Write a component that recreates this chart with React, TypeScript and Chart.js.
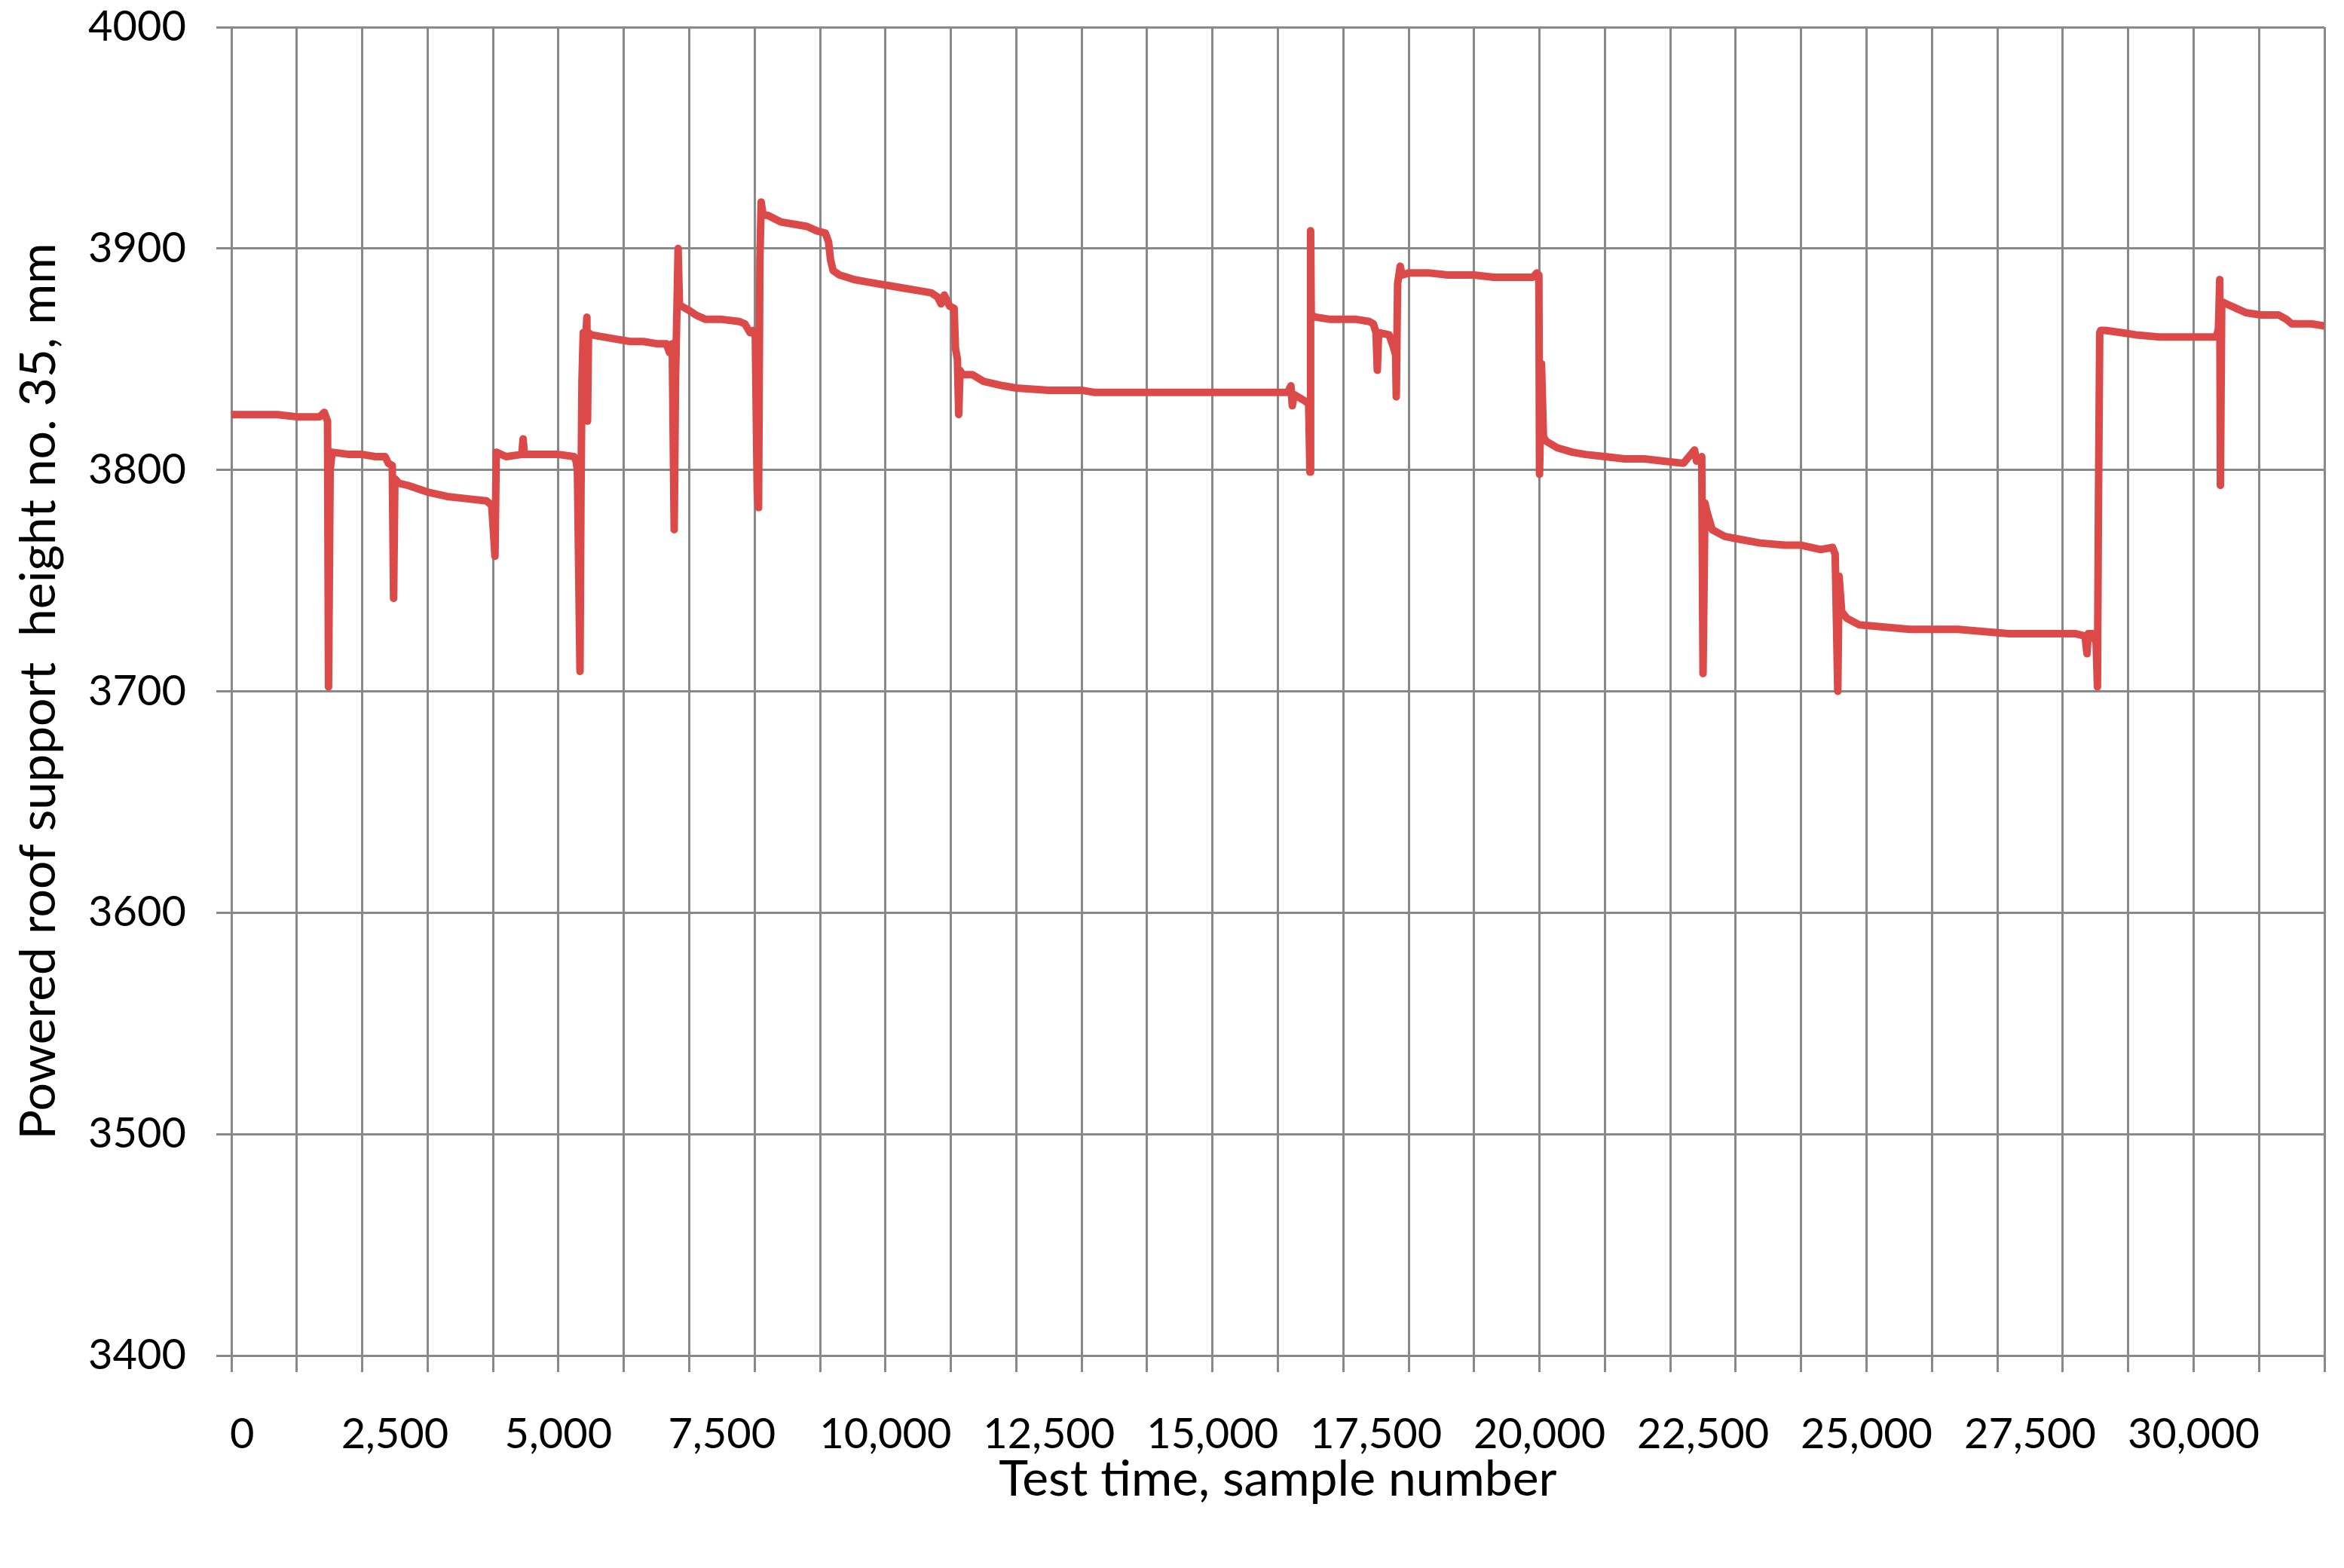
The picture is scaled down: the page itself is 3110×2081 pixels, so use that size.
import React, { useEffect, useRef } from 'react';
import { Chart, registerables } from 'chart.js';

Chart.register(...registerables);

// Test time (sample number) at each read breakpoint
const sampleNumber = [
  0, 700, 1000, 1350, 1420, 1470, 1485, 1510, 1540,
  1800, 2000, 2200, 2350, 2400, 2460, 2480, 2500, 2560, 2700, 3000, 3300, 3600, 3900, 3980,
  4030, 4050, 4200, 4440, 4460, 4480, 4800, 5000, 5240, 5270,
  5290, 5330, 5345, 5360, 5380, 5400, 5435, 5445, 5460, 5500,
  5700, 5900, 6100, 6300, 6500, 6650, 6700, 6740,
  6770, 6790, 6830, 6850, 6880, 7000, 7100, 7250, 7500, 7770, 7850, 7930, 7980,
  8010, 8040, 8060, 8080, 8100, 8130,
  8200, 8400, 8600, 8800, 8950, 9080, 9130, 9160, 9200, 9300,
  9520, 9700, 9900, 10100, 10300, 10500, 10700, 10800, 10850, 10900, 10980, 11050,
  11070, 11100, 11120, 11140, 11180, 11330, 11500, 11650, 11800, 12000, 12500, 13000, 13200, 13600,
  14000, 14500, 15000, 15500, 16000, 16150, 16200, 16220, 16250, 16420, 16470,
  16490, 16500, 16510, 16580, 16800, 17000, 17200, 17400, 17460, 17500, 17520, 17540, 17700, 17760, 17800,
  17810, 17830, 17870, 17900, 18000, 18300, 18600,
  19000, 19300, 19600, 19900, 19960, 19990,
  20000, 20030, 20060, 20100, 20270, 20500, 20700, 21000, 21300, 21600, 21900, 22200, 22370, 22400, 22480,
  22500, 22530, 22560, 22640, 22830, 23000, 23370, 23750, 24000, 24300, 24480, 24520,
  24560, 24580, 24620, 24700, 24890, 25280, 25660, 26000, 26400, 26800, 27180, 27500, 27800, 28000, 28200, 28340,
  28370, 28390, 28460, 28510,
  28530, 28545, 28565, 28580, 28650, 28900, 29120, 29500, 29880, 30200, 30350, 30380,
  30400, 30410, 30430, 30500, 30650, 30800, 31030, 31300, 31420, 31500, 31800, 32000,
];

// Powered roof support height no. 35 (mm) at each breakpoint
const supportHeight = [
  3825, 3825, 3824, 3824, 3826, 3822, 3702, 3800, 3808,
  3807, 3807, 3806, 3806, 3803, 3802, 3742, 3796, 3794, 3793, 3790, 3788, 3787, 3786, 3784,
  3761, 3808, 3806, 3807, 3814, 3807, 3807, 3807, 3806, 3804,
  3800, 3709, 3790, 3840, 3862, 3850, 3869, 3822, 3862, 3861,
  3860, 3859, 3858, 3858, 3857, 3857, 3853, 3857,
  3773, 3840, 3900, 3875, 3874, 3872, 3870, 3868, 3868, 3867, 3866, 3862, 3863,
  3860, 3790, 3783, 3895, 3921, 3915,
  3915, 3912, 3911, 3910, 3908, 3907, 3903, 3895, 3890, 3888,
  3886, 3885, 3884, 3883, 3882, 3881, 3880, 3878, 3875, 3879, 3874, 3873,
  3855, 3850, 3825, 3845, 3843, 3843, 3840, 3839, 3838, 3837, 3836, 3836, 3835, 3835,
  3835, 3835, 3835, 3835, 3835, 3835, 3838, 3829, 3834, 3831, 3830,
  3799, 3908, 3870, 3869, 3868, 3868, 3868, 3867, 3866, 3862, 3845, 3862, 3861, 3856, 3852,
  3833, 3884, 3892, 3888, 3889, 3889, 3888,
  3888, 3887, 3887, 3887, 3889, 3888,
  3798, 3848, 3815, 3813, 3810, 3808, 3807, 3806, 3805, 3805, 3804, 3803, 3809, 3804, 3806,
  3708, 3785, 3781, 3773, 3770, 3769, 3767, 3766, 3766, 3764, 3765, 3762,
  3700, 3752, 3736, 3733, 3730, 3729, 3728, 3728, 3728, 3727, 3726, 3726, 3726, 3726, 3726, 3725,
  3717, 3726, 3726, 3722,
  3702, 3783, 3862, 3863, 3863, 3862, 3861, 3860, 3860, 3860, 3860, 3864,
  3886, 3793, 3876, 3875, 3873, 3871, 3870, 3870, 3868, 3866, 3866, 3865,
];

const yTicks = [3400, 3500, 3600, 3700, 3800, 3900, 4000];
const xGridTicks = [
  0, 1000, 2000, 3000, 4000, 5000, 6000, 7000, 8000, 9000, 10000, 11000, 12000, 13000, 14000, 15000, 16000,
  17000, 18000, 19000, 20000, 21000, 22000, 23000, 24000, 25000, 26000, 27000, 28000, 29000, 30000, 31000, 32000,
];
const xLabelTicks = [0, 2500, 5000, 7500, 10000, 12500, 15000, 17500, 20000, 22500, 25000, 27500, 30000];

const xTitle = 'Test time, sample number';
const yTitle = 'Powered roof support  height no. 35, mm';

const LINE_COLOR = '#DB4A48';
const GRID_COLOR = '#898989';
const FONT = 'Lato';

export default function App() {
  const canvasRef = useRef<HTMLCanvasElement | null>(null);

  useEffect(() => {
    document.body.style.margin = '0';
    const canvas = canvasRef.current;
    if (!canvas) return;
    const allX = Array.from(new Set([...xGridTicks, ...xLabelTicks])).sort((a, b) => a - b);
    const chart = new Chart(canvas, {
      type: 'line',
      data: {
        datasets: [
          {
            data: sampleNumber.map((x, i) => ({ x, y: supportHeight[i] })),
            borderColor: LINE_COLOR,
            backgroundColor: LINE_COLOR,
            borderWidth: 10,
            pointRadius: 0,
            tension: 0,
            fill: false,
            borderCapStyle: 'round',
            borderJoinStyle: 'round',
          },
        ],
      },
      options: {
        responsive: false,
        animation: false,
        devicePixelRatio: 1,
        layout: { padding: { left: 0, right: 26, top: 36, bottom: 0 } },
        plugins: { legend: { display: false }, tooltip: { enabled: false }, title: { display: false } },
        scales: {
          x: {
            type: 'linear',
            min: 0,
            max: 32000,
            afterBuildTicks: (s: any) => {
              s.ticks = allX.map((v) => ({ value: v }));
            },
            afterFit: (s: any) => {
              s.height = 282;
              s.paddingLeft = 0;
              s.paddingRight = 0;
            },
            ticks: {
              autoSkip: false,
              maxRotation: 0,
              minRotation: 0,
              padding: 49,
              color: '#000',
              font: { family: FONT, size: 56 },
              callback: (v: any) => {
                const n = Number(v);
                if (!xLabelTicks.includes(n)) return '';
                return n === 0 ? '  0' : n.toLocaleString('en-US');
              },
            },
            grid: {
              color: (ctx: any) => (ctx.tick && xGridTicks.includes(ctx.tick.value) ? GRID_COLOR : 'rgba(0,0,0,0)'),
              tickColor: (ctx: any) => (ctx.tick && xGridTicks.includes(ctx.tick.value) ? GRID_COLOR : 'rgba(0,0,0,0)'),
              lineWidth: 3,
              tickLength: 22,
              drawTicks: true,
            },
            border: { display: false },
            title: {
              display: true,
              text: xTitle,
              color: '#000',
              font: { family: FONT, size: 66 },
              padding: { top: 0, bottom: 78 },
            },
          },
          y: {
            type: 'linear',
            min: 3400,
            max: 4000,
            afterBuildTicks: (s: any) => {
              s.ticks = yTicks.map((v) => ({ value: v }));
            },
            afterFit: (s: any) => {
              s.width = 307;
              s.paddingTop = 0;
              s.paddingBottom = 0;
            },
            ticks: {
              padding: 40,
              color: '#000',
              font: { family: FONT, size: 56 },
              callback: (v: any) => String(v),
            },
            grid: {
              color: GRID_COLOR,
              tickColor: GRID_COLOR,
              lineWidth: 3,
              tickLength: 20,
              drawTicks: true,
            },
            border: { display: false },
            title: {
              display: true,
              text: yTitle,
              color: '#000',
              font: { family: FONT, size: 66 },
              padding: { top: 12, bottom: 0 },
            },
          },
        },
      },
    } as any);
    return () => chart.destroy();
  }, []);

  return (
    <div style={{ position: 'absolute', left: 0, top: 0, width: 3110, height: 2081, background: '#fff' }}>
      <canvas ref={canvasRef} width={3110} height={2081} style={{ display: 'block', width: 3110, height: 2081 }} />
    </div>
  );
}
